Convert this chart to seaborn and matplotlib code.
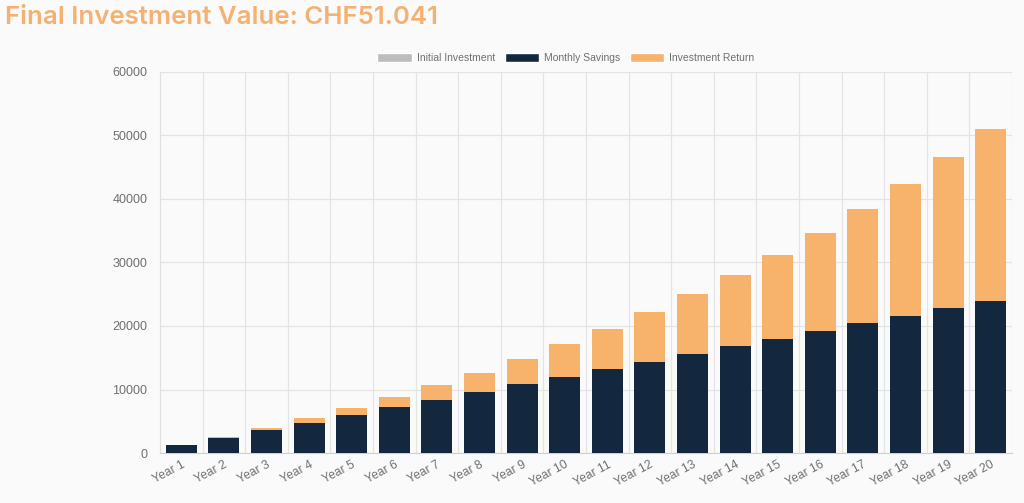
import numpy as np
import pandas as pd
import matplotlib
matplotlib.use("Agg")
import matplotlib.pyplot as plt
from matplotlib.patches import Patch
import seaborn as sns

years = ["Year %d" % i for i in range(1, 21)]
initial = [0] * 20
savings = [1200, 2400, 3600, 4800, 6000, 7200, 8400, 9600, 10800, 12000,
           13200, 14400, 15600, 16800, 18000, 19200, 20400, 21600, 22800, 24000]
totals = [1230, 2550, 3970, 5450, 7060, 8800, 10700, 12650, 14850, 17120,
          19600, 22200, 25000, 28020, 31250, 34700, 38420, 42330, 46620, 51041]
returns = [t - s for t, s in zip(totals, savings)]

GRAY = "#BDBBBB"
NAVY = "#13283F"
ORANGE = "#F7B26C"
BG = "#FAFAFA"

df = pd.DataFrame({"year": years, "initial": initial, "savings": savings,
                   "returns": returns})
df["top"] = df["initial"] + df["savings"] + df["returns"]
df["mid"] = df["initial"] + df["savings"]

sns.set_style("white")
plt.rcParams["font.family"] = ["Liberation Sans", "DejaVu Sans"]

fig = plt.figure(figsize=(10.24, 5.03), dpi=100, facecolor=BG)
ax = fig.add_axes([160 / 1024, 50 / 503, 852 / 1024, 381 / 503])
ax.set_facecolor(BG)

# stacked bars: draw cumulative heights back to front
for col, c in [("top", ORANGE), ("mid", NAVY), ("initial", GRAY)]:
    sns.barplot(data=df, x="year", y=col, color=c, width=0.73,
                saturation=1, ax=ax, zorder=3, linewidth=0)

ax.set_xlim(-0.5, 19.5)
ax.set_ylim(0, 60000)
ax.set_yticks(range(0, 60001, 10000))
ax.set_xticks(np.arange(-0.5, 20, 1), minor=True)
ax.grid(False)
ax.grid(axis="y", which="major", color="#E4E4E4", lw=0.9, zorder=0)
ax.grid(axis="x", which="minor", color="#E4E4E4", lw=0.9, zorder=0)
ax.tick_params(axis="x", which="minor", length=6, color="#E4E4E4")
ax.tick_params(axis="x", which="major", length=0, pad=4)
ax.tick_params(axis="y", length=6, color="#E4E4E4", pad=3)
ax.set_xlabel("")
ax.set_ylabel("")
for lab in ax.get_xticklabels():
    lab.set_rotation(28)
    lab.set_ha("right")
    lab.set_rotation_mode("anchor")
    lab.set_color("#707070")
    lab.set_fontsize(8.7)
for lab in ax.get_yticklabels():
    lab.set_color("#707070")
    lab.set_fontsize(9)
for s in ["top", "right"]:
    ax.spines[s].set_visible(False)
ax.spines["left"].set_color("#E0E0E0")
ax.spines["bottom"].set_color("#D0D0D0")

handles = [Patch(facecolor=GRAY, label="Initial Investment"),
           Patch(facecolor=NAVY, label="Monthly Savings"),
           Patch(facecolor=ORANGE, label="Investment Return")]
fig.legend(handles=handles, loc="center", bbox_to_anchor=(566 / 1024, 1 - 58 / 503),
           ncol=3, frameon=False, fontsize=7.5, handlelength=3.3, handleheight=0.9,
           handletextpad=0.5, columnspacing=0.9, labelcolor="#707070")

fig.text(5 / 1024, 1 - 18 / 503, "Final Investment Value: CHF51.041",
         color="#F4B171", fontsize=18.6, va="center", ha="left",
         fontweight="semibold", family=["Inter", "DejaVu Sans"])

fig.savefig("out.png", dpi=100, facecolor=BG)
